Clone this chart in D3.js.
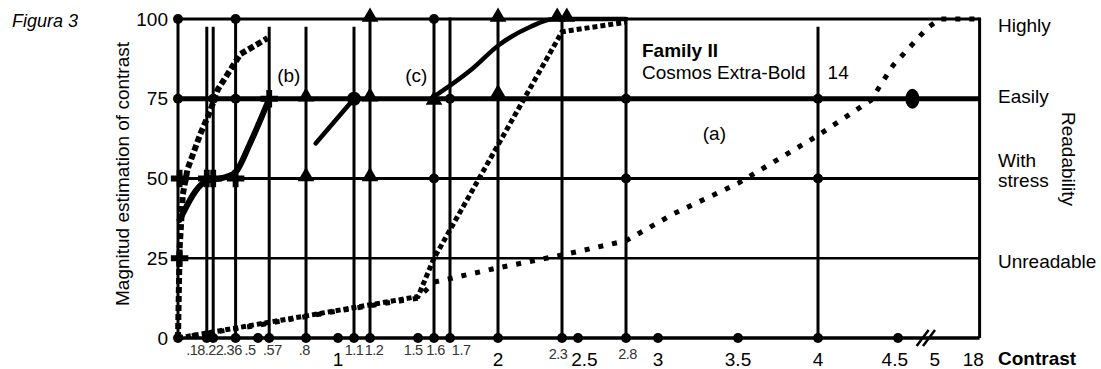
<!DOCTYPE html>
<html>
<head>
<meta charset="utf-8">
<script src="https://cdn.jsdelivr.net/npm/d3@7/dist/d3.min.js"></script>
<style>
  body { margin: 0; background: #fff; }
  text { font-family: "Liberation Sans", Arial, sans-serif; fill: #000; }
</style>
</head>
<body>
<div id="container"></div>
<script>
// x axis ticks (the axis is linear 0..5 with a break to 18 at the end)
var minorTicks = [0.18, 0.22, 0.36, 0.5, 0.57, 0.8, 1.1, 1.2, 1.5, 1.6, 1.7, 2.4, 2.8];
var minorLabels = [".18", ".22", ".36", ".5", ".57", ".8", "1.1", "1.2", "1.5", "1.6", "1.7", "2.3", "2.8"];
var minorLabelAt = [0.11, 0.225, 0.34, 0.45, 0.59, 0.79, 1.1, 1.225, 1.47, 1.61, 1.77, 2.375, 2.81];
var majorTicks = [1, 2, 2.5, 3, 3.5, 4, 4.5];
var majorLabels = ["1", "2", "2.5", "3", "3.5", "4", "4.5", "5", "18"];
var majorLabelAt = [1, 2, 2.54, 3, 3.5, 4, 4.48, 4.73, 4.97];
var xEnd = 5.01;

var yTicks = [0, 25, 50, 75, 100];
var readLabels = [["Highly"], ["Easily"], ["With", "stress"], ["Unreadable"]];
var readAt = [95.9, 73.7, 53.6, 21.9];

// vertical grid lines
var gridTall = [0, 0.36, 1.2, 1.6, 1.7, 2, 2.4, 2.8, xEnd];
var gridShort = [0.18, 0.22, 0.57, 0.8, 1.1, 4];

// curves
var curveA = [[0, 0], [0.5, 4], [1, 8.5], [1.5, 12.5], [1.6, 17.5], [2, 22], [2.4, 26], [2.8, 30.5],
              [3.1, 39], [3.5, 48.5], [4, 63.5], [4.33, 74.5], [4.47, 85.5], [4.68, 97], [4.76, 100], [xEnd, 100]];
var dashC = [[0, 0], [1.5, 13], [1.6, 25], [2.4, 96], [2.8, 99]];
var dashB = [[0, 0], [0.01, 28], [0.03, 45], [0.06, 53], [0.14, 64], [0.2, 71], [0.25, 78], [0.39, 89], [0.56, 94]];
var solidB = [[0.01, 37], [0.17, 49], [0.3, 50.5], [0.36, 52], [0.45, 61], [0.57, 75]];
var solidC1 = [[0.86, 61], [1.1, 75]];
var solidC2 = [[1.58, 75], [1.83, 84], [2.01, 92], [2.2, 97.5], [2.35, 100], [2.8, 100]];

// markers on the grid
var circlePts = [[0, 100], [0.36, 100], [1.6, 100], [0, 75], [0.22, 75], [0.36, 75], [1.7, 75],
                 [2.8, 75], [4, 75], [1.6, 50], [2.8, 50], [4, 50]];
var bigCirclePts = [[1.1, 75]];
var trianglePts = [[1.2, 100], [2, 100], [2.37, 100], [2.43, 100], [0.8, 75], [1.2, 75], [1.6, 74],
                   [2, 76], [0.8, 50], [1.2, 50]];
var crossPts = [[0.57, 75], [0.01, 50], [0.18, 50], [0.22, 50], [0.36, 50], [0.01, 25]];
var diamondPts = [[4.59, 75]];

var W = 1101, H = 369;
var svg = d3.select("#container").append("svg")
    .attr("width", W).attr("height", H)
    .style("background", "#fff");

var x = d3.scaleLinear().domain([0, 5]).range([178, 978]);
var y = d3.scaleLinear().domain([0, 100]).range([338, 19]);

// horizontal grid
var hWidth = { 0: 3.5, 25: 2.5, 50: 3, 75: 5, 100: 3 };
svg.selectAll("line.h").data(yTicks).enter().append("line")
    .attr("x1", x(0)).attr("x2", x(xEnd))
    .attr("y1", d => y(d)).attr("y2", d => y(d))
    .attr("stroke", "#000").attr("stroke-width", d => hWidth[d]);

// vertical grid
svg.selectAll("line.vt").data(gridTall).enter().append("line")
    .attr("x1", d => x(d)).attr("x2", d => x(d))
    .attr("y1", y(100) - 1.5).attr("y2", y(0))
    .attr("stroke", "#000").attr("stroke-width", 3);
svg.selectAll("line.vs").data(gridShort).enter().append("line")
    .attr("x1", d => x(d)).attr("x2", d => x(d))
    .attr("y1", y(97.6)).attr("y2", y(0))
    .attr("stroke", "#000").attr("stroke-width", 3);

// curves
var line = d3.line().x(d => x(d[0])).y(d => y(d[1]));
var smooth = d3.line().x(d => x(d[0])).y(d => y(d[1])).curve(d3.curveMonotoneX);

svg.append("path").datum(curveA).attr("d", line)
    .attr("fill", "none").attr("stroke", "#000").attr("stroke-width", 5)
    .attr("stroke-dasharray", "5,9");
svg.append("path").datum(dashC).attr("d", line)
    .attr("fill", "none").attr("stroke", "#000").attr("stroke-width", 5)
    .attr("stroke-dasharray", "5,3");
svg.append("path").datum(dashB).attr("d", line)
    .attr("fill", "none").attr("stroke", "#000").attr("stroke-width", 6)
    .attr("stroke-dasharray", "6,3");
svg.append("path").datum(solidB).attr("d", smooth)
    .attr("fill", "none").attr("stroke", "#000").attr("stroke-width", 6)
    .attr("stroke-linecap", "round");
svg.append("path").datum(solidC1).attr("d", line)
    .attr("fill", "none").attr("stroke", "#000").attr("stroke-width", 4.5)
    .attr("stroke-linecap", "round");
svg.append("path").datum(solidC2).attr("d", smooth)
    .attr("fill", "none").attr("stroke", "#000").attr("stroke-width", 4.5)
    .attr("stroke-linecap", "round");

// bottom dots on every tick
var bottomDots = [0].concat(minorTicks, majorTicks);
svg.selectAll("circle.b").data(bottomDots).enter().append("circle")
    .attr("cx", d => x(d)).attr("cy", y(0)).attr("r", 5).attr("fill", "#000");

// markers
svg.selectAll("circle.m").data(circlePts).enter().append("circle")
    .attr("cx", d => x(d[0])).attr("cy", d => y(d[1])).attr("r", 5).attr("fill", "#000");
svg.selectAll("circle.big").data(bigCirclePts).enter().append("circle")
    .attr("cx", d => x(d[0])).attr("cy", d => y(d[1])).attr("r", 7).attr("fill", "#000");
var tri = d3.symbol().type(d3.symbolTriangle).size(120);
svg.selectAll("path.tri").data(trianglePts).enter().append("path")
    .attr("d", tri)
    .attr("transform", d => "translate(" + x(d[0]) + "," + (y(d[1]) - 2) + ")")
    .attr("fill", "#000");
var cross = d3.symbol().type(d3.symbolCross).size(170);
svg.selectAll("path.cross").data(crossPts).enter().append("path")
    .attr("d", cross)
    .attr("transform", d => "translate(" + x(d[0]) + "," + y(d[1]) + ")")
    .attr("fill", "#000");
svg.selectAll("ellipse.dia").data(diamondPts).enter().append("ellipse")
    .attr("cx", d => x(d[0])).attr("cy", d => y(d[1])).attr("rx", 7).attr("ry", 10)
    .attr("fill", "#000");

// axis break mark
[4.66, 4.7].forEach(function (b) {
    svg.append("line")
        .attr("x1", x(b) - 7).attr("y1", y(0) + 8)
        .attr("x2", x(b) + 5).attr("y2", y(0) - 8)
        .attr("stroke", "#000").attr("stroke-width", 2.5);
});

// y tick labels
svg.selectAll("text.yt").data(yTicks).enter().append("text")
    .attr("x", 168).attr("y", d => y(d)).attr("dy", "0.35em")
    .attr("text-anchor", "end").style("font-size", "19px")
    .text(d => d);

// x tick labels
svg.selectAll("text.xm").data(minorLabels).enter().append("text")
    .attr("x", (d, i) => x(minorLabelAt[i])).attr("y", (d, i) => minorLabels[i] == "2.3" || minorLabels[i] == "2.8" ? 359 : 355)
    .attr("text-anchor", "middle").style("font-size", "14.5px").style("fill", "#333")
    .attr("letter-spacing", "-0.5")
    .text(d => d);
svg.selectAll("text.xM").data(majorLabels).enter().append("text")
    .attr("x", (d, i) => x(majorLabelAt[i])).attr("y", 366)
    .attr("text-anchor", "middle").style("font-size", "19px")
    .text(d => d);

svg.append("text").attr("x", 998).attr("y", 365)
    .style("font-size", "19px").style("font-weight", "bold").text("Contrast");

// readability labels
readLabels.forEach(function (lines, i) {
    var t = svg.append("text").attr("x", 998).attr("y", y(readAt[i])).style("font-size", "19px");
    lines.forEach(function (s, j) {
        t.append("tspan").attr("x", 998).attr("dy", j ? 20 : 0).text(s);
    });
});

svg.append("text")
    .attr("transform", "translate(1062,159) rotate(90)")
    .attr("text-anchor", "middle").style("font-size", "19px").text("Readability");

svg.append("text")
    .attr("transform", "translate(129,174) rotate(-90)")
    .attr("text-anchor", "middle").style("font-size", "19px").text("Magnitud estimation of contrast");

svg.append("text").attr("x", 12).attr("y", 27)
    .style("font-size", "18px").style("font-style", "italic").text("Figura 3");

// annotations
svg.append("text").attr("x", x(0.62)).attr("y", 82).style("font-size", "19px").text("(b)");
svg.append("text").attr("x", x(1.42)).attr("y", 82).style("font-size", "19px").text("(c)");
svg.append("text").attr("x", x(3.28)).attr("y", 140).style("font-size", "19px").text("(a)");
svg.append("text").attr("x", x(2.9)).attr("y", 57)
    .style("font-size", "19px").style("font-weight", "bold").text("Family II");
svg.append("text").attr("x", x(2.9)).attr("y", 79).style("font-size", "19px").text("Cosmos Extra-Bold");
svg.append("text").attr("x", x(4.06)).attr("y", 79).style("font-size", "19px").text("14");
</script>
</body>
</html>
